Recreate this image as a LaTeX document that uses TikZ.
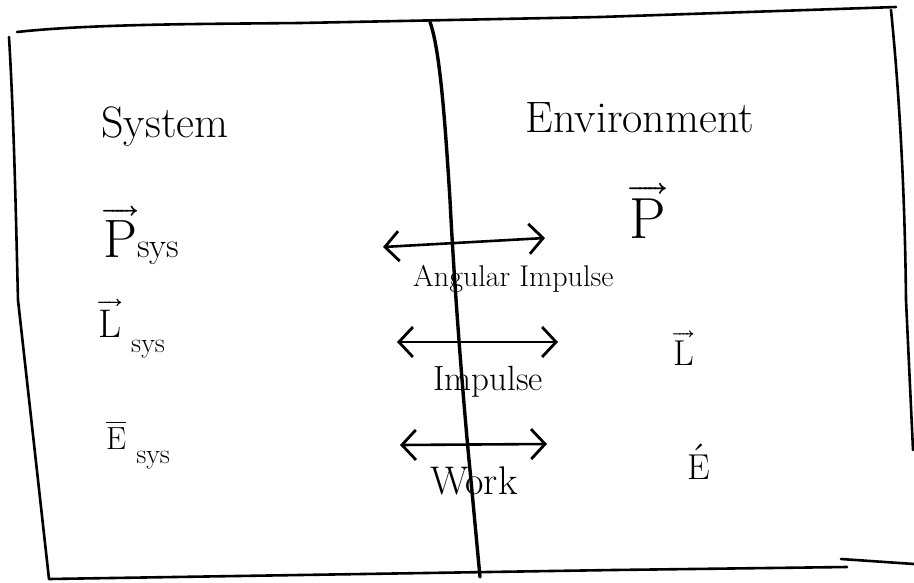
\documentclass[tikz,border=0pt]{standalone}
\usepackage{fontspec}
\usepackage{unicode-math}
\setmathfont{Latin Modern Math}
\usetikzlibrary{arrows.meta}
\tikzset{
  ink/.style={line width=2.6pt, line cap=round, line join=round},
  divider/.style={line width=3.4pt, line cap=round},
  flow/.style={ink, {Straight Barb[length=14pt,width=30pt,line width=2.8pt]}-{Straight Barb[length=14pt,width=30pt,line width=2.8pt]}},
  heading/.style={font=\fontsize{44}{50}\selectfont, inner sep=0pt},
  flowlabel/.style={inner sep=0pt},
  qty/.style={inner sep=0pt},
}
\newcommand{\fs}[1]{\fontsize{#1}{#1}\selectfont}
\begin{document}
\begin{tikzpicture}[x=1pt,y=-1pt]
\useasboundingbox (0,0) rectangle (914,582);
% outer frame (hand drawn)
\coordinate (tl) at (17,32);
\coordinate (tr) at (896,7);
\coordinate (lt) at (9,37);
\coordinate (bl) at (49,579);
\coordinate (br) at (847,567);
\coordinate (hk) at (841,559);
\coordinate (he) at (914,564);
\coordinate (rt) at (891,10);
\coordinate (rb) at (913,450);
\draw[ink] (tl) .. controls (90,24) and (200,24) .. (300,23) -- (600,17) -- (tr);
\draw[ink] (lt) .. controls (14,120) and (16,220) .. (18,300) -- (bl);
\draw[ink] (bl) -- (614,570) -- (br);
\draw[ink] (hk) -- (he);
\draw[ink] (rt) .. controls (900,100) and (905,200) .. (906,300) -- (rb);
% divider
\coordinate (dt) at (430,22);
\coordinate (db) at (480,577);
\draw[divider] (dt) .. controls (440,50) and (445,120) .. (450,200) .. controls (455,300) and (465,420) .. (470,470) -- (db);
% headings
\node[heading, anchor=base] (sys) at (165,137) {System};
\node[heading, anchor=base] (env) at (640,132) {Environment};
% system quantities
\node[qty, anchor=base west] (psys) at (103,257) {\fs{54}$\overrightarrow{\mathrm{P}}$\fs{35}sys};
\node[qty, anchor=base west] (lsys) at (98,337) {\fs{40}$\overrightarrow{\mathrm{L}}$\hspace{10pt}\raisebox{-15pt}{\fs{28}sys}};
\node[qty, anchor=base west] (esys) at (106,449) {\fs{32}$\overline{\mathrm{E}}$\hspace{10pt}\raisebox{-14pt}{\fs{28}sys}};
% environment quantities
\node[qty, anchor=base] (penv) at (648,238) {\fs{58}$\overrightarrow{\mathrm{P}}$};
\node[qty, anchor=base] (lenv) at (684,365) {\fs{36}$\overrightarrow{\mathrm{L}}$};
\node[qty, anchor=base] (eenv) at (699,479) {\fs{36}$\acute{\mathrm{E}}$};
% exchange arrows
\coordinate (a1l) at (383,247);
\coordinate (a1r) at (545,238);
\coordinate (a2l) at (397,342);
\coordinate (a2r) at (558,342);
\coordinate (a3l) at (400,445);
\coordinate (a3r) at (547,444);
\draw[flow] (a1l) -- (a1r);
\draw[flow] (a2l) -- (a2r);
\draw[flow] (a3l) -- (a3r);
% arrow labels
\node[flowlabel, anchor=base west, font=\fs{30}] (ang) at (413,286) {Angular Impulse};
\node[flowlabel, anchor=base, font=\fs{35}] (imp) at (488,390) {Impulse};
\node[flowlabel, anchor=base, font=\fs{40}] (work) at (474,494) {Work};
\end{tikzpicture}
\end{document}
